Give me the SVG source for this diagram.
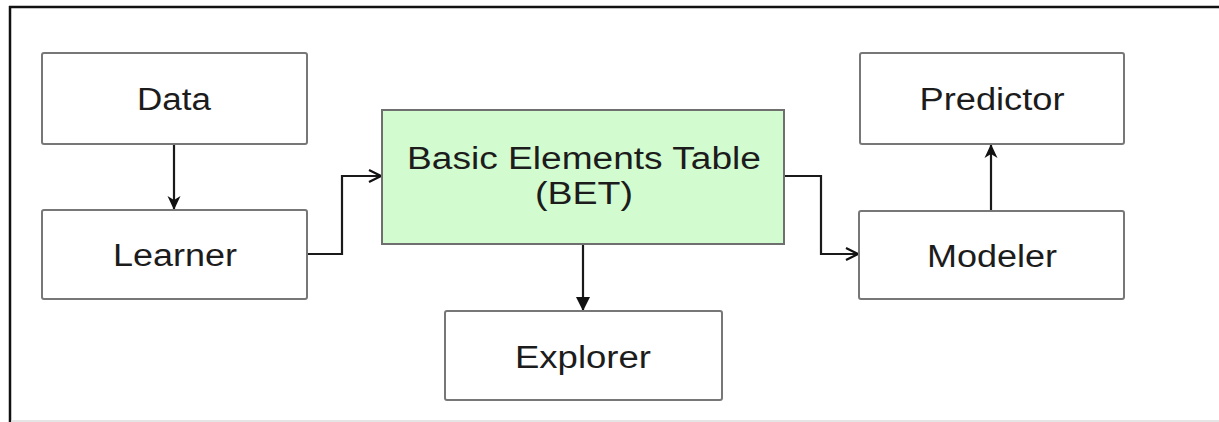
<svg xmlns="http://www.w3.org/2000/svg" width="1219" height="422" viewBox="0 0 1219 422">
  <style>
    .box { fill: #ffffff; stroke: #777777; stroke-width: 2; }
    .bet { fill: #d3fbd0; stroke: #6f6f6f; stroke-width: 2; }
    .lbl { font-family: "Liberation Sans", Arial, sans-serif; font-size: 31px; fill: #1c1c1c; text-anchor: middle; }
    .wire { fill: none; stroke: #1a1a1a; stroke-width: 2.2; }
  </style>
  <defs>
    <marker id="solid" viewBox="0 0 14 14" refX="14" refY="7" markerWidth="14" markerHeight="14" markerUnits="userSpaceOnUse" orient="auto">
      <path d="M0,0 L14,7 L0,14 Z" fill="#111111"/>
    </marker>
    <marker id="notch" viewBox="0 0 14 14" refX="14" refY="7" markerWidth="14" markerHeight="14" markerUnits="userSpaceOnUse" orient="auto">
      <path d="M0,0.5 L14,7 L0,13.5 L4,7 Z" fill="#111111"/>
    </marker>
    <marker id="open" viewBox="0 0 14 14" refX="13" refY="7" markerWidth="14" markerHeight="14" markerUnits="userSpaceOnUse" orient="auto">
      <path d="M1,1 L13,7 L1,13" fill="none" stroke="#111111" stroke-width="2.2"/>
    </marker>
  </defs>

  <!-- frame -->
  <rect x="0" y="0" width="1219" height="422" fill="#ffffff"/>
  <line x1="9" y1="7" x2="1219" y2="7" stroke="#111111" stroke-width="2.5"/>
  <line x1="10" y1="6" x2="10" y2="422" stroke="#111111" stroke-width="2.5"/>
  <line x1="11" y1="421" x2="1219" y2="421" stroke="#dddddd" stroke-width="1.5"/>

  <g id="connectors">
    <line class="wire" x1="174" y1="144" x2="174" y2="210" marker-end="url(#notch)"/>
    <polyline class="wire" points="307,254 342,254 342,176 381,176" marker-end="url(#open)"/>
    <line class="wire" x1="583" y1="244" x2="583" y2="311" marker-end="url(#solid)"/>
    <polyline class="wire" points="784,176 821,176 821,254 858,254" marker-end="url(#open)"/>
    <line class="wire" x1="991" y1="211" x2="991" y2="144" marker-end="url(#notch)"/>
  </g>

  <g id="data">
    <rect class="box" x="42" y="53" width="265" height="91" rx="2"/>
    <text class="lbl" x="174" y="110" textLength="74" lengthAdjust="spacingAndGlyphs">Data</text>
  </g>
  <g id="learner">
    <rect class="box" x="42" y="210" width="265" height="89" rx="2"/>
    <text class="lbl" x="175" y="266" textLength="124" lengthAdjust="spacingAndGlyphs">Learner</text>
  </g>
  <g id="bet">
    <rect class="bet" x="382" y="110" width="402" height="134"/>
    <text class="lbl" x="584" y="169" textLength="354" lengthAdjust="spacingAndGlyphs">Basic Elements Table</text>
    <text class="lbl" x="584" y="204" textLength="98" lengthAdjust="spacingAndGlyphs">(BET)</text>
  </g>
  <g id="explorer">
    <rect class="box" x="445" y="311" width="277" height="89" rx="2"/>
    <text class="lbl" x="583" y="368" textLength="136" lengthAdjust="spacingAndGlyphs">Explorer</text>
  </g>
  <g id="predictor">
    <rect class="box" x="860" y="53" width="264" height="91" rx="2"/>
    <text class="lbl" x="992" y="110" textLength="145" lengthAdjust="spacingAndGlyphs">Predictor</text>
  </g>
  <g id="modeler">
    <rect class="box" x="859" y="211" width="265" height="88" rx="2"/>
    <text class="lbl" x="992" y="267" textLength="130" lengthAdjust="spacingAndGlyphs">Modeler</text>
  </g>
</svg>
